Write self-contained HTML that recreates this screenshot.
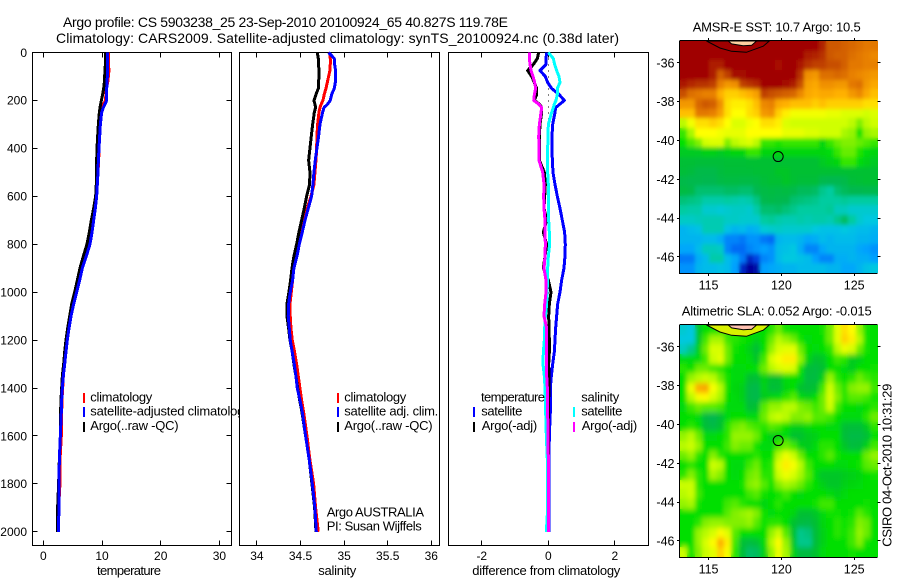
<!DOCTYPE html>
<html>
<head>
<meta charset="utf-8">
<title>Argo profile</title>
<style>
html,body{margin:0;padding:0;background:#fff;}
svg{display:block;}
text{font-family:"Liberation Sans",sans-serif;fill:#000;}
</style>
</head>
<body>
<svg id="fig" xmlns="http://www.w3.org/2000/svg" width="900" height="580" viewBox="0 0 900 580">
<defs>
<filter id="sst-smooth" filterUnits="userSpaceOnUse" x="670" y="30" width="220" height="255"><feGaussianBlur stdDeviation="1.8 2.2"/></filter>
<filter id="sla-smooth" filterUnits="userSpaceOnUse" x="670" y="315" width="220" height="255"><feGaussianBlur stdDeviation="2.2 2.8"/></filter>
<clipPath id="sst-clip"><rect x="680" y="41" width="198" height="232"/></clipPath>
<clipPath id="sla-clip"><rect x="680" y="325" width="198" height="232"/></clipPath>
</defs>
<rect x="0" y="0" width="900" height="580" fill="#fff"/>
<text x="63" y="27" font-size="14" textLength="445" lengthAdjust="spacing">Argo profile: CS 5903238_25 23-Sep-2010 20100924_65 40.827S 119.78E</text>
<text x="56" y="43" font-size="14" textLength="563" lengthAdjust="spacing">Climatology: CARS2009. Satellite-adjusted climatology: synTS_20100924.nc (0.38d later)</text>
<g id="panels"></g>
<g id="maps"></g>
<text transform="translate(891.5,546.7) rotate(-90)" font-size="13" textLength="163" lengthAdjust="spacing">CSIRO 04-Oct-2010 10:31:29</text>
</svg>
<script>
var depths = [0,25,50,75,100,125,150,175,200,215,230,250,300,350,400,450,500,550,600,650,700,750,800,850,900,950,1000,1050,1100,1150,1200,1250,1300,1350,1400,1450,1500,1600,1700,1800,1900,2000];

var tempClim = [11.08,11.08,11.08,11.19,11.08,10.97,10.74,10.68,10.57,10.28,10.06,9.83,9.60,9.55,9.49,9.43,9.32,9.20,9.09,8.75,8.35,8.07,7.67,7.05,6.42,6.02,5.57,5.11,4.72,4.32,4.03,3.81,3.64,3.41,3.30,3.18,3.13,3.07,2.84,2.84,2.61,2.44];
var tempSat = [10.91,10.91,10.91,10.91,10.91,10.85,10.80,10.80,10.80,10.51,10.23,9.94,9.72,9.60,9.49,9.38,9.32,9.20,9.09,8.86,8.58,8.30,7.95,7.33,6.65,6.19,5.68,5.17,4.72,4.38,4.09,3.86,3.64,3.41,3.24,3.13,3.07,2.90,2.73,2.67,2.67,2.56];
var tempArgo = [10.57,10.57,10.57,10.51,10.45,10.40,10.28,10.11,9.89,9.77,9.66,9.55,9.38,9.26,9.15,9.09,9.09,9.03,8.92,8.58,8.18,7.84,7.44,6.82,6.25,5.80,5.34,4.83,4.49,4.15,3.86,3.64,3.47,3.24,3.13,3.01,2.95,2.90,2.73,2.61,2.44,2.39];

var salClim = [34.834,34.841,34.841,34.837,34.822,34.807,34.792,34.772,34.757,34.738,34.723,34.711,34.696,34.688,34.685,34.677,34.665,34.654,34.620,34.577,34.539,34.509,34.474,34.451,34.424,34.409,34.394,34.379,34.382,34.390,34.405,34.432,34.455,34.474,34.493,34.512,34.535,34.574,34.608,34.650,34.673,34.704];
var salSat = [34.822,34.887,34.891,34.902,34.902,34.899,34.887,34.857,34.841,34.811,34.769,34.753,34.723,34.707,34.688,34.669,34.654,34.642,34.627,34.589,34.551,34.520,34.486,34.459,34.424,34.409,34.382,34.363,34.359,34.371,34.382,34.405,34.428,34.447,34.463,34.493,34.520,34.558,34.600,34.635,34.665,34.681];
var salArgo = [34.692,34.704,34.707,34.711,34.711,34.707,34.704,34.677,34.654,34.665,34.673,34.658,34.639,34.623,34.608,34.593,34.608,34.604,34.570,34.543,34.512,34.482,34.455,34.424,34.402,34.386,34.367,34.344,34.344,34.363,34.379,34.405,34.424,34.447,34.467,34.489,34.516,34.558,34.600,34.631,34.662,34.677];

var diffTempSat = [-0.05,-0.07,-0.07,-0.25,-0.09,-0.02,0.10,0.32,0.48,0.35,0.22,0.20,0.13,0.11,0.11,0.12,0.14,0.20,0.27,0.35,0.42,0.49,0.51,0.50,0.47,0.40,0.35,0.28,0.25,0.22,0.20,0.18,0.13,0.09,0.06,0.06,0.06,0.03,0.02,0.02,0.02,0.02];
var diffTempArgo = [-0.29,-0.33,-0.45,-0.62,-0.50,-0.42,-0.35,-0.35,-0.42,-0.27,-0.20,-0.20,-0.25,-0.27,-0.27,-0.27,-0.12,-0.09,-0.11,-0.13,-0.05,-0.15,-0.05,-0.10,-0.15,0,0.08,0.03,0.01,0.02,0.03,0.03,0.01,0.02,0.02,0.01,0.01,0,0,0,0,0];
var diffSalSat = [0,0.15,0.19,0.25,0.32,0.35,0.27,0.27,0.23,0.18,0.15,0.10,0,-0.01,-0.02,-0.02,-0.02,0,0,0,0.01,0.03,0.04,0,-0.02,-0.02,-0.04,-0.05,-0.09,-0.11,-0.12,-0.15,-0.16,-0.12,-0.10,-0.09,-0.08,-0.06,-0.03,-0.02,-0.02,-0.06];
var diffSalArgo = [-0.57,-0.57,-0.55,-0.52,-0.46,-0.41,-0.38,-0.42,-0.44,-0.29,-0.20,-0.22,-0.27,-0.29,-0.28,-0.28,-0.17,-0.13,-0.14,-0.13,-0.10,-0.10,-0.09,-0.10,-0.13,-0.07,-0.07,-0.11,-0.13,-0.05,-0.05,-0.06,-0.06,-0.05,-0.03,-0.03,-0.02,-0.01,0,0,0,0];

var depthTicks = [0,200,400,600,800,1000,1200,1400,1600,1800,2000];
var tempTicks = [0,10,20,30];
var salTicks = [34,34.5,35,35.5,36];
var salTickLabels = ['34','34.5','35','35.5','36'];
var diffTicks = [-2,0,2];
var lonTicks = [115,120,125];
var latTicks = [-36,-38,-40,-42,-44,-46];
var argoLon = [119.78];
var argoLat = [-40.827];
var coastLon = [114.86,115.78,116.58,117.6,118.75,119.17];
var coastLat = [-34.87,-35.23,-35.4,-35.45,-35.14,-34.87];
var landLon = [116.35,116.58,117.38,117.96,118.3];
var landLat = [-34.87,-35.02,-35.11,-35.09,-34.87];

var sstRow00 = [15,15,15,15,15,15,15,15,15,15,15,15,15,15,15,15,15,15,15,14.4,13.7,13.7,13.6,13.5,13.4,13.3,13.3];
var sstRow01 = [15,15,15,15,15,15,15,15,15,15,15,15,15,15,15,15,15,14.5,14.4,14.2,13.7,13.6,13.6,13.4,13.3,13.2,13.1];
var sstRow02 = [15,15,15,15,14.5,14.5,15,15,15,15,15,15,15,14.7,15,15,14.6,14.2,14,14,13.8,13.8,13.6,13.3,13.3,13.2,13.2];
var sstRow03 = [15,15,15,15,14.5,13.6,14,14.8,14.8,15,15,15,15,15,15,15,14.2,13,12.9,13.4,13.4,13.5,13.4,13.2,13.1,13,12.9];
var sstRow04 = [14.6,14.3,14.2,14.2,14,13.2,12.9,13,14,14.2,14.3,15,15,15,14.8,14.5,13.8,12.8,12.7,13,13,12.9,12.9,13.3,13.4,12.9,12.7];
var sstRow05 = [13.8,13.4,13.3,13.2,13.2,12.6,12.4,12.4,12.5,12.6,12.8,14,13.8,13.7,13.6,13.5,13.1,12.7,12.6,12.7,12.7,12.6,12.6,12.9,13.1,12.7,12.5];
var sstRow06 = [12.9,12.9,13.5,13.7,13.6,13,12.3,12.2,12.2,12.3,12.5,13.1,13.2,12.7,12.6,12.5,12.5,12.5,12.4,12.5,12.4,12.4,12.4,12.4,12.4,12.3,12.3];
var sstRow07 = [12.5,12.5,13.3,13.3,13.2,12.8,12.3,12.1,12.1,12.3,12.4,12.9,13,12.4,12.2,12,12,12,12,12,11.9,11.9,11.8,11.8,11.8,11.7,11.8];
var sstRow08 = [11.6,12,12.3,12.3,12.4,12.3,12.1,11.8,11.8,12,12.1,12.3,12.3,12.2,11.8,11.7,11.7,11.7,11.7,11.7,11.7,11.7,11.7,11.6,11.3,11.6,11.7];
var sstRow09 = [11,11.5,12.1,12.1,12.1,12,11.9,11.9,11.9,12.1,12.1,12.1,12.1,12.1,11.9,11.9,11.9,11.8,11.8,11.7,11.7,11.7,11.5,11.4,10.9,11.4,11.5];
var sstRow10 = [10.8,11.1,11.3,11.7,11.8,11.8,11.3,11.6,11.7,11.8,11.6,11,11,10.9,11,11,11,11,11,10.6,11,11.2,11.3,11.3,11.2,11.1,11];
var sstRow11 = [10.4,10.4,10.4,10.5,10.5,10.4,10.5,10.6,10.6,11,11,10.6,10.6,10.6,10.6,10.6,10.6,10.6,10.6,10.6,10.7,11,11.2,11.2,10.9,10.7,10.6];
var sstRow12 = [10.1,10.1,10,10,10,10,10.1,10.1,10.1,10.2,10.2,10.2,10.2,10.2,10.2,10.2,10.2,10.2,10.2,10.4,10.5,10.6,11,11,10.7,10.5,10.4];
var sstRow13 = [10,9.8,9.5,9.5,9.5,9.8,10,10,10,10,10.1,10.2,10.2,10.3,10.3,10.2,10.2,10.2,10.2,10.2,10.2,10.2,10.2,10.2,10.2,10.2,10.2];
var sstRow14 = [9.5,9.4,9.4,9.3,9.3,9.6,9.7,9.7,9.6,9.6,9.7,10,10.2,10.2,10.3,10.2,10,10,10,9.4,9.3,9.3,9.5,10,10.1,10.2,10.2];
var sstRow15 = [9.7,9.5,9,9,9,9,9.1,9.1,9,9,9.3,9.6,9.7,9.6,9.7,9.5,9.2,9.2,9.1,8.7,8.5,9,9.2,9.3,9.3,9.4,9.4];
var sstRow16 = [8.9,8.8,8.7,8.4,8.4,8.4,8.5,8.4,8.3,8.4,8.8,9.4,9.5,9.4,9.3,9,8.9,8.8,8.7,8.5,8.5,8.5,8.6,8.5,8.5,8.5,8.5];
var sstRow17 = [8.5,8.4,8.4,8,8,7.9,8,8.1,8.1,8,8.4,9,9,9.1,8.9,8.7,8.5,8.5,8.5,8.5,8.6,8.2,8.2,8,8,8,8];
var sstRow18 = [8.1,8.1,8.2,8.3,8.3,8.3,8.1,8.1,8,8,8,8.5,8.6,8.4,8.3,8.3,8.4,8.3,8.4,8.4,8.3,8.7,9.1,8.5,8,7.8,7.8];
var sstRow19 = [7.5,7.6,7.7,8.3,8.3,8.3,7.7,7.5,7.6,7.4,7.5,7.9,8,8.1,8,8,8,8,7.8,7.7,7.7,7.7,7.8,7.7,7.6,7.6,7.5];
var sstRow20 = [7.5,7.5,7.5,7.6,7.6,7.4,7,7,6.9,7.1,7.1,6.9,6.8,7.5,7.6,7.6,7.5,7.3,7.4,7.6,7.5,7.6,7.6,7.6,7.5,7.5,7.4];
var sstRow21 = [7.3,7.3,7.6,8.2,8.2,8.1,7,6.8,6.8,7,7.1,7.2,7.1,7.6,7.7,7.8,7.4,7,7,7.3,7.5,7.5,7.5,7.5,7.3,7.2,7.1];
var sstRow22 = [6.9,6.9,7.4,7.6,8.4,8.4,7.6,7.3,6.9,6.3,6.5,7,7.1,7.6,7.8,7.8,7.7,7.6,7.2,7,7,7.4,7.4,7.5,7.4,7.4,7.2];
var sstRow23 = [7.1,7.1,7.5,7.6,7.6,7.7,7.6,7.2,6.3,6,6.1,7.2,7.3,7.4,7.5,7.5,7.6,7.6,7.6,7.6,7.5,7.5,7.3,7.3,7.5,7.7,7.8];
var sstGrid = [sstRow00,sstRow01,sstRow02,sstRow03,sstRow04,sstRow05,sstRow06,sstRow07,sstRow08,sstRow09,sstRow10,sstRow11,sstRow12,sstRow13,sstRow14,sstRow15,sstRow16,sstRow17,sstRow18,sstRow19,sstRow20,sstRow21,sstRow22,sstRow23];

var slaRow00 = [-28,-30,-2,3,4,5,5,5,3,3,3,3,5,8,4,3,3,3,3,4,8,15,20,18,10,4,3];
var slaRow01 = [-30,-30,-2,6,11,11,6,5,4,3,0,3,8,12,10,8,4,2,3,3,8,15,21,19,12,4,3];
var slaRow02 = [-26,-20,0,8,14,14,8,4,3,0,-5,3,10,14,15,15,8,3,2,3,5,12,16,14,8,4,3];
var slaRow03 = [2,2,2,6,13,15,8,3,3,2,-2,6,14,17,19,19,10,1,-3,-2,3,6,5,-1,0,3,3];
var slaRow04 = [5,3,8,8,6,5,3,2,2,3,3,8,12,14,15,14,4,-6,-8,-4,3,3,2,-1,3,3,4];
var slaRow05 = [3,10,12,13,12,8,4,2,2,-4,-5,0,-3,-3,2,3,2,-8,-8,0,10,5,3,5,8,6,5];
var slaRow06 = [3,16,24,25,17,12,4,1,0,-10,-12,0,-6,-5,1,3,-3,-6,-3,6,13,8,5,9,10,10,6];
var slaRow07 = [3,12,17,18,14,11,3,2,0,-10,-12,-1,1,2,5,7,2,0,3,8,14,9,5,7,7,6,4];
var slaRow08 = [2,6,8,7,7,6,2,2,2,-6,-3,7,10,10,12,12,9,8,6,8,13,6,3,3,2,3,5];
var slaRow09 = [3,3,2,-8,-13,-5,2,3,3,2,2,8,12,13,12,9,9,10,7,7,6,3,2,2,2,5,8];
var slaRow10 = [3,5,3,-6,-10,-3,5,8,9,7,6,5,7,6,3,0,0,2,3,3,2,2,-5,-6,-6,-1,5];
var slaRow11 = [10,12,8,2,2,3,5,10,10,10,8,3,0,1,2,-3,-3,-1,0,3,3,3,-6,-10,-10,-5,3];
var slaRow12 = [12,13,10,3,3,3,6,9,8,8,4,2,2,6,8,6,0,-1,2,5,5,3,-2,-7,-6,0,6];
var slaRow13 = [8,10,5,3,9,5,3,3,3,3,5,3,3,12,16,13,8,3,3,5,7,4,3,3,3,8,10];
var slaRow14 = [3,5,3,3,13,12,3,2,2,6,8,4,5,15,19,17,12,6,3,3,3,2,2,3,4,7,8];
var slaRow15 = [5,9,5,3,11,9,3,2,3,8,9,5,5,13,16,14,11,7,2,-2,-2,-2,-1,0,1,3,4];
var slaRow16 = [13,13,5,3,3,3,3,3,4,9,10,7,4,9,11,10,8,5,3,0,-2,-2,0,1,2,3,3];
var slaRow17 = [12,13,6,3,3,3,3,3,3,6,7,4,3,4,6,3,2,3,3,3,2,0,2,3,3,3,3];
var slaRow18 = [10,11,4,3,3,3,6,7,5,3,3,1,3,5,3,3,3,3,4,6,6,3,3,3,3,4,3];
var slaRow19 = [3,3,3,3,3,3,7,9,10,11,9,4,2,3,3,1,-4,-4,-2,2,4,4,3,4,7,5,3];
var slaRow20 = [3,3,5,9,10,10,9,9,9,10,7,4,5,5,3,-3,-8,-10,-4,1,3,5,4,5,9,8,3];
var slaRow21 = [3,3,10,12,14,18,15,7,3,3,3,3,10,13,7,-3,-20,-18,-6,0,3,5,4,6,10,8,3];
var slaRow22 = [3,3,10,14,18,24,19,6,-5,-8,-5,2,12,18,10,-2,-20,-20,-6,0,3,3,3,6,9,4,3];
var slaRow23 = [13,4,9,13,15,21,17,5,-6,-16,-15,0,10,16,11,0,-8,-8,-3,2,3,3,3,4,3,3,3];
var slaGrid = [slaRow00,slaRow01,slaRow02,slaRow03,slaRow04,slaRow05,slaRow06,slaRow07,slaRow08,slaRow09,slaRow10,slaRow11,slaRow12,slaRow13,slaRow14,slaRow15,slaRow16,slaRow17,slaRow18,slaRow19,slaRow20,slaRow21,slaRow22,slaRow23];

var NS = 'http://www.w3.org/2000/svg';

function make(tag, parent, attrs) {
  var el = document.createElementNS(NS, tag);
  for (var k in attrs) { el.setAttribute(k, attrs[k]); }
  parent.appendChild(el);
  return el;
}
function linear(d0, d1, r0, r1) {
  return function (v) { return r0 + (v - d0) * (r1 - r0) / (d1 - d0); };
}
function addText(parent, x, y, str, size, anchor, len, name) {
  var attrs = { x: x, y: y, 'font-size': size };
  if (anchor) { attrs['text-anchor'] = anchor; }
  if (len) { attrs.textLength = len; attrs.lengthAdjust = 'spacing'; }
  var t = make('text', parent, attrs);
  t.textContent = str;
  
  
  return t;
}
function addLine(parent, x1, y1, x2, y2, name) {
  var l = make('line', parent, { x1: x1, y1: y1, x2: x2, y2: y2, stroke: '#000', 'stroke-width': 1, 'shape-rendering': 'crispEdges' });
  
  
  return l;
}

var panelsG = document.getElementById('panels');
var mapsG = document.getElementById('maps');
var plotTop = 52.5, plotBottom = 545.5;
var yDepth = linear(0, 2057, plotTop, plotBottom);

function drawPanel(cfg) {
  var g = make('g', panelsG, {});
  
  
  var bg = make('rect', g, { x: cfg.left, y: plotTop, width: cfg.right - cfg.left, height: plotBottom - plotTop, fill: '#fff', stroke: '#000', 'stroke-width': 1, 'shape-rendering': 'crispEdges' });
  
  
  var sx = linear(cfg.domain[0], cfg.domain[1], cfg.left, cfg.right);
  cfg.ticks.forEach(function (v, i) {
    var px = Math.round(sx(v) - 0.5) + 0.5;
    addLine(g, px, plotTop, px, plotTop + 5, 'x-tick-top');
    addLine(g, px, plotBottom, px, plotBottom - 5, 'x-tick-bottom');
    addText(g, sx(v), 560, cfg.tickLabels[i], 12, 'middle', 0, 'x-tick-label');
  });
  addText(g, cfg.labelX, 575, cfg.label, 13, null, cfg.labelLen, 'x-axis-title');
  if (cfg.yTicks) {
    depthTicks.forEach(function (d) {
      var py = Math.round(yDepth(d) - 0.5) + 0.5;
      addLine(g, cfg.left, py, cfg.left + 5, py, 'y-tick-left');
      addLine(g, cfg.right, py, cfg.right - 5, py, 'y-tick-right');
      addText(g, 27, yDepth(d) + 4.3, String(d), 12, 'end', 0, 'y-tick-label');
    });
  }
  if (cfg.zeroLine) {
    var z = make('line', g, { x1: sx(0), x2: sx(0), y1: yDepth(0), y2: yDepth(2000), stroke: '#000', 'stroke-width': 1, 'stroke-dasharray': '1 5', 'shape-rendering': 'crispEdges' });
    
    
  }
  cfg.series.forEach(function (s) {
    var pts = s.values.map(function (v, i) { return sx(v).toFixed(2) + ',' + yDepth(depths[i]).toFixed(2); }).join(' ');
    var pl = make('polyline', g, { points: pts, fill: 'none', stroke: s.color, 'stroke-width': s.width, 'shape-rendering': 'crispEdges', 'stroke-linejoin': 'round' });
    
    
  });
  cfg.legend.forEach(function (e) {
    if (e.color) {
      var m = make('rect', g, { x: e.markX, y: e.markY, width: 2, height: e.markH, fill: e.color, 'shape-rendering': 'crispEdges' });
      
      
    }
    addText(g, e.x, e.y, e.text, 13, null, e.len, 'legend-entry');
  });
  (cfg.notes || []).forEach(function (n) {
    addText(g, n.x, n.y, n.text, 13, null, n.len, 'float-note');
  });
}

drawPanel({
  name: 'temperature-panel', left: 32.5, right: 231.5, domain: [-1.84, 32.06],
  ticks: tempTicks, tickLabels: tempTicks.map(String), yTicks: true,
  label: 'temperature', labelX: 97, labelLen: 64,
  series: [
    { name: 'temperature-climatology-line', values: tempClim, color: '#ff0000', width: 3 },
    { name: 'temperature-argo-line', values: tempArgo, color: '#000000', width: 3 },
    { name: 'temperature-satellite-line', values: tempSat, color: '#0000ff', width: 3 }
  ],
  legend: [
    { text: 'climatology', x: 90.3, y: 401.7, len: 62, color: '#ff0000', markX: 83, markY: 393, markH: 10 },
    { text: 'satellite-adjusted climatology', x: 90.3, y: 415.7, len: 160.4, color: '#0000ff', markX: 83, markY: 407, markH: 10 },
    { text: 'Argo(..raw -QC)', x: 90.3, y: 430, len: 88.3, color: '#000000', markX: 83, markY: 422, markH: 10 }
  ]
});

drawPanel({
  name: 'salinity-panel', left: 239.5, right: 439.5, domain: [33.8, 36.094],
  ticks: salTicks, tickLabels: salTickLabels, yTicks: false,
  label: 'salinity', labelX: 318.3, labelLen: 38,
  series: [
    { name: 'salinity-climatology-line', values: salClim, color: '#ff0000', width: 3 },
    { name: 'salinity-argo-line', values: salArgo, color: '#000000', width: 3 },
    { name: 'salinity-satellite-line', values: salSat, color: '#0000ff', width: 3 }
  ],
  legend: [
    { text: 'climatology', x: 344.3, y: 401.7, len: 62, color: '#ff0000', markX: 337, markY: 393, markH: 10 },
    { text: 'satellite adj. clim.', x: 344.3, y: 415.7, len: 94, color: '#0000ff', markX: 337, markY: 407, markH: 10 },
    { text: 'Argo(..raw -QC)', x: 344.3, y: 430, len: 88.3, color: '#000000', markX: 337, markY: 422, markH: 10 }
  ],
  notes: [
    { text: 'Argo AUSTRALIA', x: 326.7, y: 516.7, len: 97.3 },
    { text: 'PI: Susan Wijffels', x: 326.7, y: 530.7, len: 95 }
  ]
});

drawPanel({
  name: 'difference-panel', left: 448.5, right: 648.5, domain: [-3, 3.01],
  ticks: diffTicks, tickLabels: diffTicks.map(String), yTicks: false, zeroLine: true,
  label: 'difference from climatology', labelX: 472.3, labelLen: 148,
  series: [
    { name: 'temperature-satellite-diff-line', values: diffTempSat, color: '#0000ff', width: 3 },
    { name: 'temperature-argo-diff-line', values: diffTempArgo, color: '#000000', width: 3 },
    { name: 'salinity-satellite-diff-line', values: diffSalSat, color: '#00ffff', width: 3 },
    { name: 'salinity-argo-diff-line', values: diffSalArgo, color: '#ff00ff', width: 3 }
  ],
  legend: [
    { text: 'temperature', x: 481, y: 401.7, len: 64 },
    { text: 'satellite', x: 481.3, y: 415.7, len: 41, color: '#0000ff', markX: 473, markY: 407, markH: 10 },
    { text: 'Argo(-adj)', x: 481.7, y: 430, len: 55.5, color: '#000000', markX: 473, markY: 422, markH: 10 },
    { text: 'salinity', x: 581.3, y: 401.7, len: 38 },
    { text: 'satellite', x: 581.3, y: 415.7, len: 41, color: '#00ffff', markX: 573, markY: 407, markH: 10 },
    { text: 'Argo(-adj)', x: 581.7, y: 430, len: 55.5, color: '#ff00ff', markX: 573, markY: 422, markH: 10 }
  ]
});

var rampPos = [0,0.067,0.133,0.2,0.278,0.367,0.467,0.533,0.589,0.633,0.678,0.733,0.8,0.867,0.933,1];
var rampCol = [[0,0,154],[0,80,240],[0,160,255],[0,200,224],[0,204,160],[0,184,80],[0,192,48],[0,224,0],[128,240,0],[208,255,0],[255,255,0],[255,176,0],[232,128,0],[200,80,0],[176,32,0],[160,0,0]];
function rampColor(t) {
  t = Math.max(0, Math.min(1, t));
  for (var i = 1; i < rampPos.length; i++) {
    if (t <= rampPos[i]) {
      var f = (t - rampPos[i - 1]) / (rampPos[i] - rampPos[i - 1]);
      var a = rampCol[i - 1], b = rampCol[i];
      return 'rgb(' + Math.round(a[0] + (b[0] - a[0]) * f) + ',' + Math.round(a[1] + (b[1] - a[1]) * f) + ',' + Math.round(a[2] + (b[2] - a[2]) * f) + ')';
    }
  }
  return 'rgb(160,0,0)';
}

var mapLonMin = 113.04, mapLonMax = 126.6, mapLatMax = -34.87, mapLatMin = -46.83;

function drawMap(cfg) {
  var g = make('g', mapsG, {});
  
  
  var left = 680, right = 877.5, top = cfg.top, bottom = cfg.bottom;
  var sx = linear(mapLonMin, mapLonMax, left, right);
  var sy = linear(mapLatMax, mapLatMin, top, bottom);
  var nRows = cfg.grid.length;
  var cells = make('g', g, { id: cfg.name + '-cells' });
  
  
  cfg.grid.forEach(function (row, r) {
    var nCols = row.length;
    row.forEach(function (v, c) {
      var x0 = Math.round(left + (right - left) * c / nCols);
      var x1 = Math.round(left + (right - left) * (c + 1) / nCols);
      var y0 = Math.round(top + (bottom - top) * r / nRows);
      var y1 = Math.round(top + (bottom - top) * (r + 1) / nRows);
      var cell = make('rect', cells, { x: x0, y: y0, width: x1 - x0, height: y1 - y0, fill: rampColor(cfg.norm(cfg.unit * v)), 'shape-rendering': 'crispEdges' });
      
      
    });
  });
  var smoothWrap = make('g', g, { 'clip-path': 'url(#' + cfg.clip + ')' });
  
  
  var copy = make('use', smoothWrap, { href: '#' + cfg.name + '-cells', filter: 'url(#' + cfg.smooth + ')' });
  
  
  var coastPts = coastLon.map(function (lon, i) { return sx(lon).toFixed(1) + ',' + sy(coastLat[i]).toFixed(1); }).join(' ');
  var coast = make('polygon', g, { points: coastPts, fill: cfg.coastFill, stroke: '#000', 'stroke-width': 1 });
  
  
  var landPts = landLon.map(function (lon, i) { return sx(lon).toFixed(1) + ',' + sy(landLat[i]).toFixed(1); }).join(' ');
  var land = make('polygon', g, { points: landPts, fill: cfg.landFill, stroke: '#000', 'stroke-width': 1 });
  
  
  var circle = make('circle', g, { cx: sx(argoLon[0]), cy: sy(argoLat[0]), r: 5, fill: 'none', stroke: '#000', 'stroke-width': 1 });
  
  
  var frame = make('path', g, { d: 'M' + (left - 0.5) + ' ' + top + 'V' + (bottom + 0.5) + 'H' + right + 'M' + (left - 0.5) + ' ' + (top - 0.5) + 'H' + right, fill: 'none', stroke: '#000', 'stroke-width': 1, 'shape-rendering': 'crispEdges' });
  
  
  lonTicks.forEach(function (lon) {
    var px = Math.round(sx(lon) - 0.5) + 0.5;
    addLine(g, px, top - 3, px, top, 'lon-tick-top');
    addLine(g, px, bottom, px, bottom + 3, 'lon-tick-bottom');
    addText(g, sx(lon), cfg.lonLabelY, String(lon), 12.5, 'middle', 0, 'lon-tick-label');
  });
  latTicks.forEach(function (lat) {
    var py = Math.round(sy(lat) - 0.5) + 0.5;
    addLine(g, left - 3, py, left, py, 'lat-tick-left');
    addLine(g, right, py, right + 3, py, 'lat-tick-right');
    addText(g, 674.5, sy(lat) + 4.5, String(lat), 12.5, 'end', 0, 'lat-tick-label');
  });
  addText(g, cfg.titleX, cfg.titleY, cfg.title, 13, null, cfg.titleLen, 'map-title');
}

drawMap({
  name: 'sst-map', grid: sstGrid, unit: 1, clip: 'sst-clip', smooth: 'sst-smooth',
  norm: linear(6, 15, 0, 1),
  top: 41, bottom: 273, coastFill: 'none', landFill: '#ffd0a0',
  lonLabelY: 289.3, title: 'AMSR-E SST: 10.7 Argo: 10.5', titleX: 692.7, titleY: 31.7, titleLen: 168
});

drawMap({
  name: 'sla-map', grid: slaGrid, unit: 0.01, clip: 'sla-clip', smooth: 'sla-smooth',
  norm: linear(-0.5, 0.5, 0, 1),
  top: 325, bottom: 557, coastFill: '#d8f000', landFill: '#ffc0b0',
  lonLabelY: 573.3, title: 'Altimetric SLA: 0.052 Argo: -0.015', titleX: 681.7, titleY: 315.7, titleLen: 190
});
</script>
</body>
</html>
